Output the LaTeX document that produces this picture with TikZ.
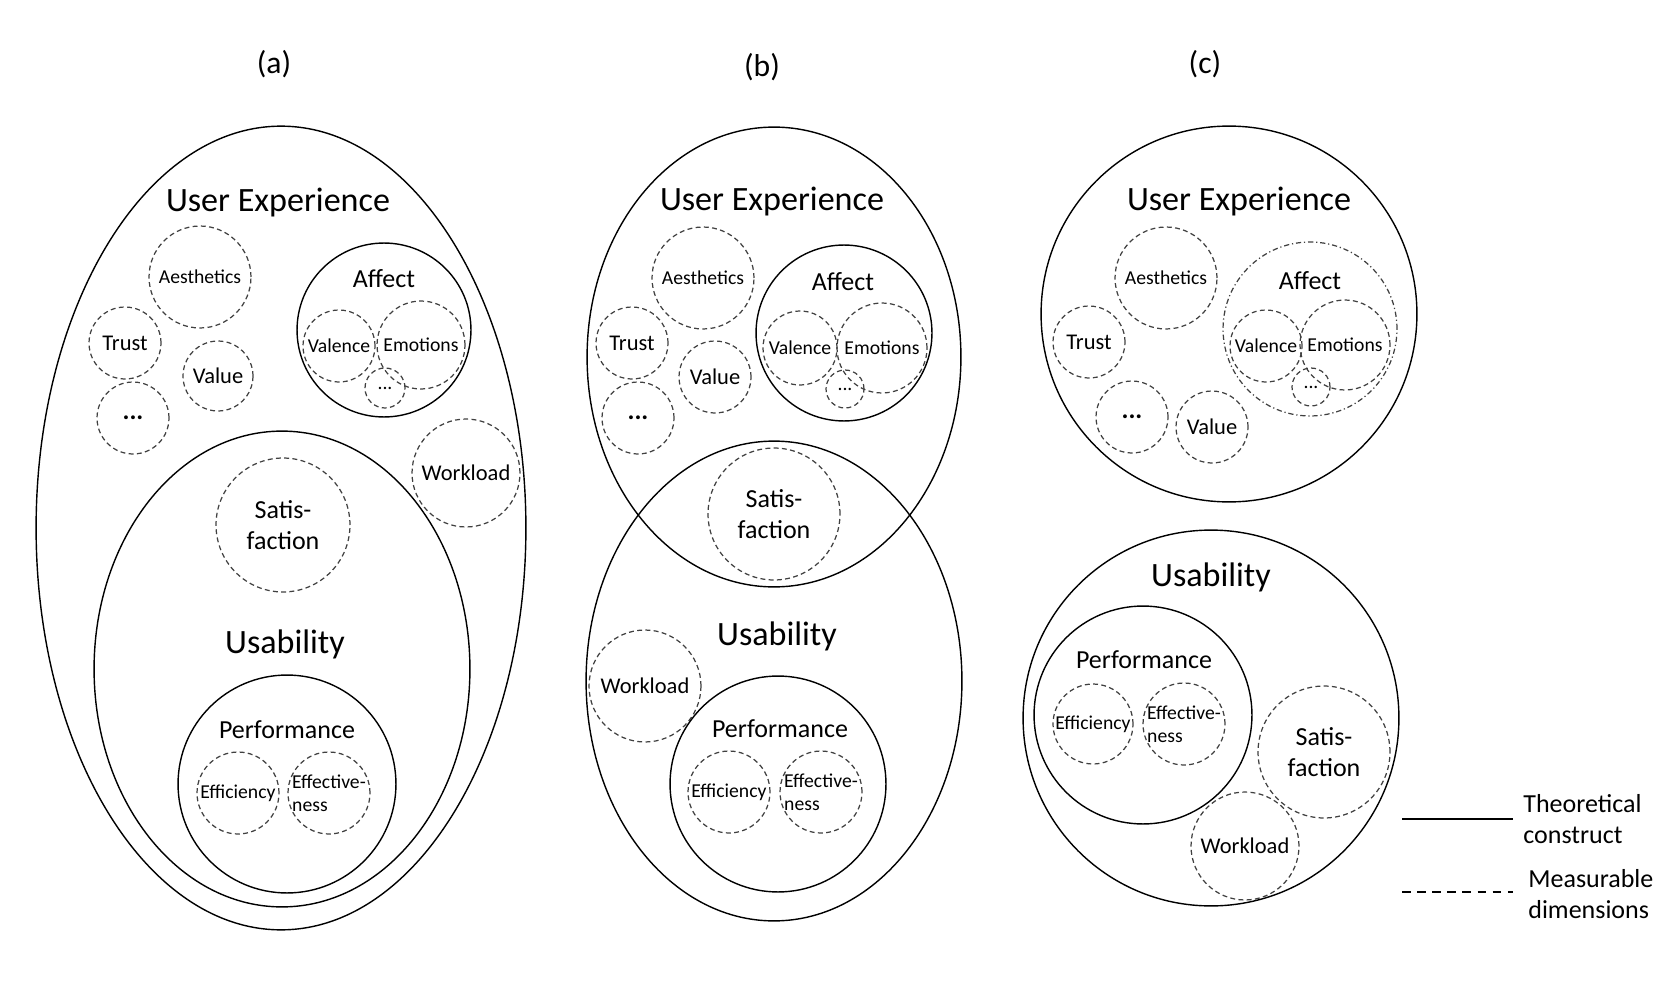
\documentclass[tikz,border=0pt]{standalone}
\usepackage{fontspec}
\setmainfont{Carlito}
\usepackage{tikz}
\usetikzlibrary{shapes.geometric}

\begin{document}
\begin{tikzpicture}[x=0.02cm, y=-0.02cm,
    construct/.style={draw, line width=0.8pt},
    measure/.style={draw=black!75, line width=0.7pt, dash pattern=on 2.8pt off 1.9pt},
    mixed/.style={draw=black!75, line width=0.7pt, dash pattern=on 3pt off 1.6pt on 0.7pt off 1.6pt},
    rad/.style={circle, inner sep=0pt, minimum size=#1*0.04cm},
    oval/.style 2 args={ellipse, inner sep=0pt, minimum width=#1*0.04cm, minimum height=#2*0.04cm},
    paneltxt/.style={font=\fontsize{18}{21}\selectfont},
    titletxt/.style={font=\fontsize{19.4}{22}\selectfont},
    headtxt/.style={font=\fontsize{14.8}{18}\selectfont, align=center},
    midtxt/.style={font=\fontsize{12.8}{15}\selectfont},
    smalltxt/.style={font=\fontsize{11.2}{13}\selectfont, align=left}]

  \useasboundingbox (0,0) rectangle (1679,1000);

  % (a) usability inside user experience
  \node[paneltxt] (labA) at (274,64) {(a)};
  \node[construct, oval={245}{402}] (uxA) at (281,528) {};
  \node[titletxt] (uxAtxt) at (278,203) {User Experience};
  \node[construct, oval={188}{238}] (usA) at (282,669) {};
  \node[titletxt] (usAtxt) at (285,644) {Usability};
  \node[measure, rad=51, smalltxt] (aesA) at (200,277) {Aesthetics};
  \node[measure, rad=36, midtxt] (trustA) at (125,343) {Trust};
  \node[measure, rad=35, midtxt] (valueA) at (218,376) {Value};
  \node[measure, rad=36, headtxt] (dotsA) at (133,418) {\textbf{...}};
  \node[construct, rad=87] (affA) at (384,330) {};
  \node[headtxt] (affAtxt) at (384,279) {Affect};
  \node[measure, rad=36, smalltxt] (valA) at (339,346) {Valence};
  \node[measure, rad=44, smalltxt] (emoA) at (421,345) {Emotions};
  \node[measure, rad=20, smalltxt] (moreA) at (385,388) {...};
  \node[measure, rad=54, midtxt] (workA) at (466,473) {Workload};
  \node[measure, rad=67, headtxt] (satA) at (283,525) {Satis-\\faction};
  \node[construct, rad=109] (perfA) at (287,784) {};
  \node[headtxt] (perfAtxt) at (287,730) {Performance};
  \node[measure, rad=41, smalltxt] (effiA) at (238,793) {Efficiency};
  \node[measure, rad=41, label={[smalltxt]center:Effective-\\ness}] (effeA) at (329,793) {};

  % (b) overlapping constructs
  \node[paneltxt] (labB) at (762,67) {(b)};
  \node[construct, oval={187}{230}] (uxB) at (774,357) {};
  \node[titletxt] (uxBtxt) at (772,202) {User Experience};
  \node[construct, oval={188}{240}] (usB) at (774,681) {};
  \node[titletxt] (usBtxt) at (777,636) {Usability};
  \node[measure, rad=51, smalltxt] (aesB) at (703,278) {Aesthetics};
  \node[measure, rad=36, midtxt] (trustB) at (632,343) {Trust};
  \node[measure, rad=36, midtxt] (valueB) at (715,377) {Value};
  \node[measure, rad=36, headtxt] (dotsB) at (638,418) {\textbf{...}};
  \node[construct, rad=88] (affB) at (844,333) {};
  \node[headtxt] (affBtxt) at (843,282) {Affect};
  \node[measure, rad=37, smalltxt] (valB) at (800,348) {Valence};
  \node[measure, rad=45, smalltxt] (emoB) at (882,348) {Emotions};
  \node[measure, rad=19, smalltxt] (moreB) at (845,389) {...};
  \node[measure, rad=66, headtxt] (satB) at (774,514) {Satis-\\faction};
  \node[measure, rad=56, midtxt] (workB) at (645,686) {Workload};
  \node[construct, rad=108] (perfB) at (778,784) {};
  \node[headtxt] (perfBtxt) at (780,729) {Performance};
  \node[measure, rad=41, smalltxt] (effiB) at (729,792) {Efficiency};
  \node[measure, rad=41, label={[smalltxt]center:Effective-\\ness}] (effeB) at (821,792) {};

  % (c) separate constructs
  \node[paneltxt] (labC) at (1205,64) {(c)};
  \node[construct, rad=188] (uxC) at (1229,314) {};
  \node[titletxt] (uxCtxt) at (1239,202) {User Experience};
  \node[measure, rad=51, smalltxt] (aesC) at (1166,278) {Aesthetics};
  \node[measure, rad=36, midtxt] (trustC) at (1089,342) {Trust};
  \node[measure, rad=36, headtxt] (dotsC) at (1132,417) {\textbf{...}};
  \node[measure, rad=36, midtxt] (valueC) at (1212,427) {Value};
  \node[mixed, rad=87] (affC) at (1310,329) {};
  \node[headtxt] (affCtxt) at (1310,281) {Affect};
  \node[measure, rad=36, smalltxt] (valC) at (1266,346) {Valence};
  \node[measure, rad=45, smalltxt] (emoC) at (1345,345) {Emotions};
  \node[measure, rad=19, smalltxt] (moreC) at (1311,387) {...};
  \node[construct, rad=188] (usC) at (1211,718) {};
  \node[titletxt] (usCtxt) at (1211,577) {Usability};
  \node[construct, rad=109] (perfC) at (1143,715) {};
  \node[headtxt] (perfCtxt) at (1144,660) {Performance};
  \node[measure, rad=40, smalltxt] (effiC) at (1093,724) {Efficiency};
  \node[measure, rad=41, label={[smalltxt]center:Effective-\\ness}] (effeC) at (1184,724) {};
  \node[measure, rad=66, headtxt] (satC) at (1324,752) {Satis-\\faction};
  \node[measure, rad=54, midtxt] (workC) at (1245,846) {Workload};

  % legend
  \coordinate (solidL) at (1402,819);
  \coordinate (solidR) at (1513,819);
  \draw[line width=1.4pt] (solidL) -- (solidR);
  \node[headtxt, anchor=west, align=left, inner sep=0pt] (theoTxt) at (1523,819) {Theoretical\\construct};
  \coordinate (dashL) at (1402,892);
  \coordinate (dashR) at (1513,892);
  \draw[line width=1.2pt, dash pattern=on 5pt off 3.6pt] (dashL) -- (dashR);
  \node[headtxt, anchor=west, align=left, inner sep=0pt] (measTxt) at (1528,894) {Measurable\\dimensions};
\end{tikzpicture}
\end{document}
